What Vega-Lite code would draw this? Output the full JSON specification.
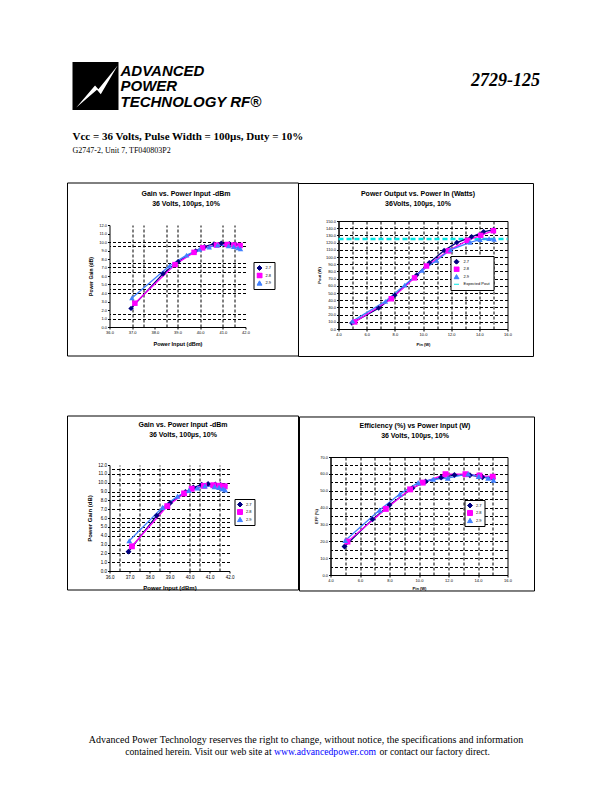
{
  "$schema": "https://vega.github.io/schema/vega-lite/v6.json",
  "padding": {"left": 66.5, "top": 62, "right": 5, "bottom": 5},
  "background": "white",
  "datasets": {
    "meas": [
      {"freq": "2.7", "dbm": 36.95, "gain": 2.19, "w": 4.95, "pout": 8.2, "eff": 16.9},
      {"freq": "2.7", "dbm": 38.36, "gain": 6.27, "w": 6.85, "pout": 29.0, "eff": 33.0},
      {"freq": "2.7", "dbm": 39.03, "gain": 7.69, "w": 8.0, "pout": 47.0, "eff": 41.5},
      {"freq": "2.7", "dbm": 39.80, "gain": 8.95, "w": 9.55, "pout": 75.0, "eff": 51.5},
      {"freq": "2.7", "dbm": 40.19, "gain": 9.45, "w": 10.45, "pout": 92.0, "eff": 55.5},
      {"freq": "2.7", "dbm": 40.61, "gain": 9.77, "w": 11.5, "pout": 109.0, "eff": 57.8},
      {"freq": "2.7", "dbm": 40.93, "gain": 9.86, "w": 12.4, "pout": 120.0, "eff": 59.3},
      {"freq": "2.7", "dbm": 41.29, "gain": 9.79, "w": 13.45, "pout": 128.0, "eff": 59.2},
      {"freq": "2.7", "dbm": 41.55, "gain": 9.75, "w": 14.3, "pout": 135.0, "eff": 58.0},
      {"freq": "2.7", "dbm": 41.76, "gain": 9.64, "w": 15.0, "pout": 138.0, "eff": 57.4},
      {"freq": "2.8", "dbm": 37.12, "gain": 2.80, "w": 5.15, "pout": 9.8, "eff": 19.8},
      {"freq": "2.8", "dbm": 38.89, "gain": 7.34, "w": 7.75, "pout": 42.0, "eff": 39.2},
      {"freq": "2.8", "dbm": 39.73, "gain": 8.78, "w": 9.4, "pout": 71.0, "eff": 50.8},
      {"freq": "2.8", "dbm": 40.11, "gain": 9.31, "w": 10.25, "pout": 87.5, "eff": 54.8},
      {"freq": "2.8", "dbm": 40.72, "gain": 9.64, "w": 11.8, "pout": 108.5, "eff": 59.8},
      {"freq": "2.8", "dbm": 41.19, "gain": 9.71, "w": 13.15, "pout": 123.0, "eff": 59.8},
      {"freq": "2.8", "dbm": 41.49, "gain": 9.65, "w": 14.1, "pout": 130.0, "eff": 59.0},
      {"freq": "2.8", "dbm": 41.76, "gain": 9.59, "w": 15.0, "pout": 136.5, "eff": 58.3},
      {"freq": "2.9", "dbm": 36.99, "gain": 3.42, "w": 5.0, "pout": 11.0, "eff": 20.5},
      {"freq": "2.9", "dbm": 38.65, "gain": 7.20, "w": 7.33, "pout": 38.5, "eff": 38.5},
      {"freq": "2.9", "dbm": 39.40, "gain": 8.46, "w": 8.7, "pout": 61.0, "eff": 48.0},
      {"freq": "2.9", "dbm": 39.97, "gain": 9.13, "w": 9.94, "pout": 81.3, "eff": 54.8},
      {"freq": "2.9", "dbm": 40.40, "gain": 9.39, "w": 10.96, "pout": 95.2, "eff": 56.8},
      {"freq": "2.9", "dbm": 40.77, "gain": 9.64, "w": 11.95, "pout": 110.0, "eff": 57.5},
      {"freq": "2.9", "dbm": 41.25, "gain": 9.55, "w": 13.34, "pout": 120.3, "eff": 60.0},
      {"freq": "2.9", "dbm": 41.48, "gain": 9.46, "w": 14.05, "pout": 124.0, "eff": 58.5},
      {"freq": "2.9", "dbm": 41.67, "gain": 9.31, "w": 14.69, "pout": 125.4, "eff": 57.5},
      {"freq": "2.9", "dbm": 41.78, "gain": 9.18, "w": 15.05, "pout": 124.5, "eff": 56.3}
    ],
    "expected": [
      {"freq": "Expected Pout", "w": 4, "pout": 125},
      {"freq": "Expected Pout", "w": 16, "pout": 125}
    ]
  },
  "title": {"text": "2729-125", "anchor": "end", "frame": "bounds", "offset": -28, "dx": 4.5, "font": "Liberation Serif", "fontSize": 18, "fontWeight": "bold", "fontStyle": "italic", "color": "black"},
  "spacing": 21,
  "resolve": {"scale": {"color": "independent", "shape": "independent"}, "legend": {"color": "independent", "shape": "independent"}},
  "vconcat": [
    {
      "width": 1, "height": 48,
      "data": {"values": [{"name": "ADVANCED\nPOWER\nTECHNOLOGY RF®"}]},
      "layer": [
        {"mark": {"type": "point", "shape": "M-1.5625,-1H0.354V1H-1.5625Z", "size": 2304, "filled": true, "color": "black", "opacity": 1, "strokeWidth": 0}, "encoding": {}},
        {"mark": {"type": "point", "shape": "M-1.404,0.9L-0.624,-0.02L-0.484,0.14L0.32,-0.85L-0.384,0.34L-0.544,0.16Z", "size": 2304, "filled": true, "color": "white", "opacity": 1, "strokeWidth": 0}, "encoding": {}},
        {"mark": {"type": "text", "align": "left", "baseline": "middle", "dx": 10.5, "dy": -15.5, "font": "Liberation Sans", "fontSize": 15, "fontWeight": "bold", "fontStyle": "italic", "lineBreak": "\n", "lineHeight": 15.5, "color": "black"}, "encoding": {"text": {"field": "name"}}}
      ]
    },
    {
      "title": {"text": "Vcc = 36 Volts, Pulse Width = 100µs, Duty = 10%", "subtitle": "G2747-2, Unit 7, TF040803P2", "anchor": "start", "frame": "bounds", "offset": 26, "dx": 5.5, "font": "Liberation Serif", "fontSize": 11, "fontWeight": "bold", "color": "black", "subtitleFont": "Liberation Serif", "subtitleFontSize": 8, "subtitleFontWeight": "normal", "subtitleColor": "black", "subtitlePadding": 5},
      "spacing": 140.5,
      "resolve": {"scale": {"color": "independent", "shape": "independent"}, "legend": {"color": "independent", "shape": "independent"}},
      "vconcat": [
        {
          "spacing": 56,
          "resolve": {"scale": {"color": "independent", "shape": "independent"}, "legend": {"color": "independent", "shape": "independent"}},
          "vconcat": [
            {
              "spacing": -2,
              "resolve": {"scale": {"color": "independent", "shape": "independent"}, "legend": {"color": "independent", "shape": "independent"}},
              "hconcat": [
                {
                  "spacing": 0,
                  "resolve": {"scale": {"color": "independent", "shape": "independent"}, "legend": {"color": "independent", "shape": "independent"}},
                  "vconcat": [
                    {"width": 1, "height": 1, "data": {"values": [{}]}, "mark": {"type": "point", "opacity": 0, "size": 0}, "encoding": {}},
                    {
                      "width": 136, "height": 102,
                      "title": {"text": "Gain vs. Power Input -dBm", "subtitle": "36 Volts, 100µs, 10%", "offset": -24, "frame": "bounds", "dx": 3},
                      "data": {"name": "meas"},
                      "resolve": {"axis": {"x": "independent", "y": "independent"}},
                      "layer": [
                        {
                          "data": {"values": [{"box": "frame"}]},
                          "mark": {"type": "rect", "fill": "transparent", "stroke": "black", "strokeWidth": 1},
                          "encoding": {
                            "x": {"datum": 34.147, "type": "quantitative", "scale": {"domain": [36, 42], "nice": false, "zero": false}, "axis": null},
                            "x2": {"datum": 44.338},
                            "y": {"datum": 16.941, "type": "quantitative", "scale": {"domain": [0, 12], "nice": false, "zero": false}, "axis": null},
                            "y2": {"datum": -3.412}
                          }
                        },
                        {
                          "mark": {"type": "line", "strokeWidth": 1.3},
                          "encoding": {
                            "x": {"field": "dbm", "type": "quantitative", "scale": {"domain": [36, 42], "nice": false, "zero": false}, "axis": {"orient": "bottom", "values": [36, 37, 38, 39, 40, 41, 42], "format": ".1f", "labelFontSize": 4, "title": "Power Input (dBm)", "titleFontSize": 5.5, "titlePadding": 7, "grid": false}},
                            "y": {"field": "gain", "type": "quantitative", "scale": {"domain": [0, 12], "nice": false, "zero": false}, "axis": {"orient": "left", "values": [0, 1, 2, 3, 4, 5, 6, 7, 8, 9, 10, 11, 12], "format": ".1f", "labelFontSize": 4, "title": "Power Gain (dB)", "titleFontSize": 5, "titlePadding": 5.7, "grid": false}},
                            "color": {"field": "freq", "type": "nominal", "scale": {"domain": ["2.7", "2.8", "2.9"], "range": ["#000080", "#FF00FF", "#4080FF"]},
                              "legend": {"orient": "none", "legendX": 144, "legendY": 37, "title": null, "fillColor": "white", "strokeColor": "black", "padding": 3, "rowPadding": 1.5, "clipHeight": 6, "labelFontSize": 4, "labelOffset": 3, "symbolSize": 25, "symbolStrokeWidth": 1}}
                          }
                        },
                        {
                          "mark": {"type": "point", "filled": true, "opacity": 1, "size": 30},
                          "encoding": {
                            "x": {"field": "dbm", "type": "quantitative", "scale": {"domain": [36, 42], "nice": false, "zero": false}, "axis": {"orient": "top", "values": [37, 37.5, 38.5, 39, 40, 41, 41.5], "grid": true, "labels": false, "ticks": false, "domain": false, "title": null}},
                            "y": {"field": "gain", "type": "quantitative", "scale": {"domain": [0, 12], "nice": false, "zero": false}, "axis": {"orient": "right", "values": [1, 1.5, 4, 4.5, 5, 6.5, 7, 7.5, 9.5, 10], "grid": true, "labels": false, "ticks": false, "domain": false, "title": null}},
                            "color": {"field": "freq", "type": "nominal", "scale": {"domain": ["2.7", "2.8", "2.9"], "range": ["#000080", "#FF00FF", "#4080FF"]},
                              "legend": {"orient": "none", "legendX": 144, "legendY": 37, "title": null, "fillColor": "white", "strokeColor": "black", "padding": 3, "rowPadding": 1.5, "clipHeight": 6, "labelFontSize": 4, "labelOffset": 3, "symbolSize": 25, "symbolStrokeWidth": 1}},
                            "shape": {"field": "freq", "type": "nominal", "scale": {"domain": ["2.7", "2.8", "2.9"], "range": ["diamond", "square", "triangle-up"]},
                              "legend": {"orient": "none", "legendX": 144, "legendY": 37, "title": null, "fillColor": "white", "strokeColor": "black", "padding": 3, "rowPadding": 1.5, "clipHeight": 6, "labelFontSize": 4, "labelOffset": 3, "symbolSize": 25, "symbolStrokeWidth": 1}}
                          }
                        }
                      ]
                    }
                  ]
                },
                {
                  "spacing": 0,
                  "resolve": {"scale": {"color": "independent", "shape": "independent"}, "legend": {"color": "independent", "shape": "independent"}},
                  "vconcat": [
                    {"width": 1, "height": 1, "data": {"values": [{}]}, "mark": {"type": "point", "opacity": 0, "size": 0}, "encoding": {}},
                    {
                      "width": 169, "height": 108,
                      "view": {"stroke": "black", "strokeWidth": 1},
                      "title": {"text": "Power Output vs. Power In (Watts)", "subtitle": "36Volts, 100µs, 10%", "offset": -24, "frame": "bounds", "dx": 2},
                      "data": {"name": "meas"},
                      "resolve": {"axis": {"x": "independent", "y": "independent"}},
                      "layer": [
                        {
                          "data": {"values": [{"box": "frame"}]},
                          "mark": {"type": "rect", "fill": "transparent", "stroke": "black", "strokeWidth": 1},
                          "encoding": {
                            "x": {"datum": 1.16, "type": "quantitative", "scale": {"domain": [4, 16], "nice": false, "zero": false}, "axis": null},
                            "x2": {"datum": 17.846},
                            "y": {"datum": 202.08, "type": "quantitative", "scale": {"domain": [0, 150], "nice": false, "zero": false}, "axis": null},
                            "y2": {"datum": -38.19}
                          }
                        },
                        {
                          "data": {"name": "expected"},
                          "mark": {"type": "line", "strokeWidth": 2.5, "strokeDash": [5, 3]},
                          "encoding": {
                            "x": {"field": "w", "type": "quantitative", "scale": {"domain": [4, 16], "nice": false, "zero": false}, "axis": null},
                            "y": {"field": "pout", "type": "quantitative", "scale": {"domain": [0, 150], "nice": false, "zero": false}, "axis": null},
                            "color": {"field": "freq", "type": "nominal", "scale": {"domain": ["2.7", "2.8", "2.9", "Expected Pout"], "range": ["#000080", "#FF00FF", "#4080FF", "#00E5E5"]},
                              "legend": {"orient": "none", "legendX": 112, "legendY": 35, "title": null, "fillColor": "white", "strokeColor": "black", "padding": 3, "rowPadding": 1.5, "clipHeight": 5.5, "labelFontSize": 4, "labelOffset": 4, "symbolSize": 25, "symbolStrokeWidth": 1}}
                          }
                        },
                        {
                          "mark": {"type": "line", "strokeWidth": 1.3},
                          "encoding": {
                            "x": {"field": "w", "type": "quantitative", "scale": {"domain": [4, 16], "nice": false, "zero": false}, "axis": {"orient": "bottom", "values": [4, 6, 8, 10, 12, 14, 16], "format": ".1f", "labelFontSize": 4, "title": "Pin (W)", "titleFontSize": 4, "titlePadding": 6.8, "grid": false}},
                            "y": {"field": "pout", "type": "quantitative", "scale": {"domain": [0, 150], "nice": false, "zero": false}, "axis": {"orient": "left", "values": [0, 10, 20, 30, 40, 50, 60, 70, 80, 90, 100, 110, 120, 130, 140, 150], "format": ".1f", "labelFontSize": 4, "title": "Pout (W)", "titleFontSize": 4, "titlePadding": 3.7, "grid": false}},
                            "color": {"field": "freq", "type": "nominal", "scale": {"domain": ["2.7", "2.8", "2.9", "Expected Pout"], "range": ["#000080", "#FF00FF", "#4080FF", "#00E5E5"]},
                              "legend": {"orient": "none", "legendX": 112, "legendY": 35, "title": null, "fillColor": "white", "strokeColor": "black", "padding": 3, "rowPadding": 1.5, "clipHeight": 5.5, "labelFontSize": 4, "labelOffset": 4, "symbolSize": 25, "symbolStrokeWidth": 1}}
                          }
                        },
                        {
                          "mark": {"type": "point", "filled": true, "opacity": 1, "size": 30},
                          "encoding": {
                            "x": {"field": "w", "type": "quantitative", "scale": {"domain": [4, 16], "nice": false, "zero": false}, "axis": {"orient": "top", "values": [5, 6, 7, 8, 9, 10, 11, 12, 13, 14, 15], "grid": true, "labels": false, "ticks": false, "domain": false, "title": null}},
                            "y": {"field": "pout", "type": "quantitative", "scale": {"domain": [0, 150], "nice": false, "zero": false}, "axis": {"orient": "right", "values": [10, 20, 30, 40, 50, 60, 70, 80, 90, 100, 110, 120, 130, 140], "grid": true, "labels": false, "ticks": false, "domain": false, "title": null}},
                            "color": {"field": "freq", "type": "nominal", "scale": {"domain": ["2.7", "2.8", "2.9", "Expected Pout"], "range": ["#000080", "#FF00FF", "#4080FF", "#00E5E5"]},
                              "legend": {"orient": "none", "legendX": 112, "legendY": 35, "title": null, "fillColor": "white", "strokeColor": "black", "padding": 3, "rowPadding": 1.5, "clipHeight": 5.5, "labelFontSize": 4, "labelOffset": 4, "symbolSize": 25, "symbolStrokeWidth": 1}},
                            "shape": {"field": "freq", "type": "nominal", "scale": {"domain": ["2.7", "2.8", "2.9", "Expected Pout"], "range": ["diamond", "square", "triangle-up", "stroke"]},
                              "legend": {"orient": "none", "legendX": 112, "legendY": 35, "title": null, "fillColor": "white", "strokeColor": "black", "padding": 3, "rowPadding": 1.5, "clipHeight": 5.5, "labelFontSize": 4, "labelOffset": 4, "symbolSize": 25, "symbolStrokeWidth": 1}}
                          }
                        }
                      ]
                    }
                  ]
                }
              ]
            },
            {
              "spacing": -2,
              "resolve": {"scale": {"color": "independent", "shape": "independent"}, "legend": {"color": "independent", "shape": "independent"}},
              "hconcat": [
                {
                  "spacing": 0,
                  "resolve": {"scale": {"color": "independent", "shape": "independent"}, "legend": {"color": "independent", "shape": "independent"}},
                  "vconcat": [
                    {"width": 1, "height": 1, "data": {"values": [{}]}, "mark": {"type": "point", "opacity": 0, "size": 0}, "encoding": {}},
                    {
                      "width": 120, "height": 106,
                      "title": {"text": "Gain vs. Power Input -dBm", "subtitle": "36 Volts, 100µs, 10%", "offset": -22, "frame": "bounds"},
                      "data": {"name": "meas"},
                      "resolve": {"axis": {"x": "independent", "y": "independent"}},
                      "layer": [
                        {
                          "data": {"values": [{"box": "frame"}]},
                          "mark": {"type": "rect", "fill": "transparent", "stroke": "black", "strokeWidth": 1},
                          "encoding": {
                            "x": {"datum": 33.9, "type": "quantitative", "scale": {"domain": [36, 42], "nice": false, "zero": false}, "axis": null},
                            "x2": {"datum": 45.45},
                            "y": {"datum": 17.547, "type": "quantitative", "scale": {"domain": [0, 12], "nice": false, "zero": false}, "axis": null},
                            "y2": {"datum": -2.151}
                          }
                        },
                        {
                          "mark": {"type": "line", "strokeWidth": 1.3},
                          "encoding": {
                            "x": {"field": "dbm", "type": "quantitative", "scale": {"domain": [36, 42], "nice": false, "zero": false}, "axis": {"orient": "bottom", "values": [36, 37, 38, 39, 40, 41, 42], "format": ".1f", "labelFontSize": 4.5, "title": "Power Input (dBm)", "titleFontSize": 6, "titlePadding": 5.8, "grid": false}},
                            "y": {"field": "gain", "type": "quantitative", "scale": {"domain": [0, 12], "nice": false, "zero": false}, "axis": {"orient": "left", "values": [0, 1, 2, 3, 4, 5, 6, 7, 8, 9, 10, 11, 12], "format": ".1f", "labelFontSize": 4.5, "title": "Power Gain (dB)", "titleFontSize": 6, "titlePadding": 5.2, "grid": false}},
                            "color": {"field": "freq", "type": "nominal", "scale": {"domain": ["2.7", "2.8", "2.9"], "range": ["#000080", "#FF00FF", "#4080FF"]},
                              "legend": {"orient": "none", "legendX": 125, "legendY": 34, "title": null, "fillColor": "white", "strokeColor": "black", "padding": 2.5, "rowPadding": 1.5, "clipHeight": 6, "labelFontSize": 4, "labelOffset": 3, "symbolSize": 25, "symbolStrokeWidth": 1}}
                          }
                        },
                        {
                          "mark": {"type": "point", "filled": true, "opacity": 1, "size": 35},
                          "encoding": {
                            "x": {"field": "dbm", "type": "quantitative", "scale": {"domain": [36, 42], "nice": false, "zero": false}, "axis": {"orient": "top", "values": [36.5, 37.5, 38.5, 40, 40.5, 41.5], "grid": true, "labels": false, "ticks": false, "domain": false, "title": null}},
                            "y": {"field": "gain", "type": "quantitative", "scale": {"domain": [0, 12], "nice": false, "zero": false}, "axis": {"orient": "right", "values": [1, 2, 3, 4, 4.5, 5, 5.5, 6, 7, 8, 8.5, 9, 10, 11, 11.5], "grid": true, "labels": false, "ticks": false, "domain": false, "title": null}},
                            "color": {"field": "freq", "type": "nominal", "scale": {"domain": ["2.7", "2.8", "2.9"], "range": ["#000080", "#FF00FF", "#4080FF"]},
                              "legend": {"orient": "none", "legendX": 125, "legendY": 34, "title": null, "fillColor": "white", "strokeColor": "black", "padding": 2.5, "rowPadding": 1.5, "clipHeight": 6, "labelFontSize": 4, "labelOffset": 3, "symbolSize": 25, "symbolStrokeWidth": 1}},
                            "shape": {"field": "freq", "type": "nominal", "scale": {"domain": ["2.7", "2.8", "2.9"], "range": ["diamond", "square", "triangle-up"]},
                              "legend": {"orient": "none", "legendX": 125, "legendY": 34, "title": null, "fillColor": "white", "strokeColor": "black", "padding": 2.5, "rowPadding": 1.5, "clipHeight": 6, "labelFontSize": 4, "labelOffset": 3, "symbolSize": 25, "symbolStrokeWidth": 1}}
                          }
                        }
                      ]
                    }
                  ]
                },
                {
                  "spacing": 0,
                  "resolve": {"scale": {"color": "independent", "shape": "independent"}, "legend": {"color": "independent", "shape": "independent"}},
                  "vconcat": [
                    {"width": 1, "height": 1, "data": {"values": [{}]}, "mark": {"type": "point", "opacity": 0, "size": 0}, "encoding": {}},
                    {
                      "width": 177, "height": 118,
                      "view": {"stroke": "black", "strokeWidth": 1},
                      "title": {"text": "Efficiency (%) vs Power Input (W)", "subtitle": "36 Volts, 100µs, 10%", "offset": -22.5, "frame": "bounds", "dx": -2},
                      "data": {"name": "meas"},
                      "resolve": {"axis": {"x": "independent", "y": "independent"}},
                      "layer": [
                        {
                          "data": {"values": [{"box": "frame"}]},
                          "mark": {"type": "rect", "fill": "transparent", "stroke": "black", "strokeWidth": 1},
                          "encoding": {
                            "x": {"datum": 1.898, "type": "quantitative", "scale": {"domain": [4, 16], "nice": false, "zero": false}, "axis": null},
                            "x2": {"datum": 17.831},
                            "y": {"datum": 93.73, "type": "quantitative", "scale": {"domain": [0, 70], "nice": false, "zero": false}, "axis": null},
                            "y2": {"datum": -9.49}
                          }
                        },
                        {
                          "mark": {"type": "line", "strokeWidth": 1.3},
                          "encoding": {
                            "x": {"field": "w", "type": "quantitative", "scale": {"domain": [4, 16], "nice": false, "zero": false}, "axis": {"orient": "bottom", "values": [4, 6, 8, 10, 12, 14, 16], "format": ".1f", "labelFontSize": 4, "title": "Pin (W)", "titleFontSize": 4, "titlePadding": 4.7, "grid": false}},
                            "y": {"field": "eff", "type": "quantitative", "scale": {"domain": [0, 70], "nice": false, "zero": false}, "axis": {"orient": "left", "values": [0, 10, 20, 30, 40, 50, 60, 70], "format": ".1f", "labelFontSize": 4, "title": "EFF (%)", "titleFontSize": 4, "titlePadding": 1, "grid": false}},
                            "color": {"field": "freq", "type": "nominal", "scale": {"domain": ["2.7", "2.8", "2.9"], "range": ["#000080", "#FF00FF", "#4080FF"]},
                              "legend": {"orient": "none", "legendX": 134, "legendY": 43, "title": null, "fillColor": "white", "strokeColor": "black", "padding": 2.5, "rowPadding": 1.5, "clipHeight": 6, "labelFontSize": 4, "labelOffset": 3, "symbolSize": 25, "symbolStrokeWidth": 1}}
                          }
                        },
                        {
                          "mark": {"type": "point", "filled": true, "opacity": 1, "size": 35},
                          "encoding": {
                            "x": {"field": "w", "type": "quantitative", "scale": {"domain": [4, 16], "nice": false, "zero": false}, "axis": {"orient": "top", "values": [5, 6, 7, 8, 9, 10, 11, 12, 13, 14, 15], "grid": true, "labels": false, "ticks": false, "domain": false, "title": null}},
                            "y": {"field": "eff", "type": "quantitative", "scale": {"domain": [0, 70], "nice": false, "zero": false}, "axis": {"orient": "right", "values": [5, 10, 15, 20, 25, 30, 35, 40, 45, 50, 55, 60, 65], "grid": true, "labels": false, "ticks": false, "domain": false, "title": null}},
                            "color": {"field": "freq", "type": "nominal", "scale": {"domain": ["2.7", "2.8", "2.9"], "range": ["#000080", "#FF00FF", "#4080FF"]},
                              "legend": {"orient": "none", "legendX": 134, "legendY": 43, "title": null, "fillColor": "white", "strokeColor": "black", "padding": 2.5, "rowPadding": 1.5, "clipHeight": 6, "labelFontSize": 4, "labelOffset": 3, "symbolSize": 25, "symbolStrokeWidth": 1}},
                            "shape": {"field": "freq", "type": "nominal", "scale": {"domain": ["2.7", "2.8", "2.9"], "range": ["diamond", "square", "triangle-up"]},
                              "legend": {"orient": "none", "legendX": 134, "legendY": 43, "title": null, "fillColor": "white", "strokeColor": "black", "padding": 2.5, "rowPadding": 1.5, "clipHeight": 6, "labelFontSize": 4, "labelOffset": 3, "symbolSize": 25, "symbolStrokeWidth": 1}}
                          }
                        }
                      ]
                    }
                  ]
                }
              ]
            }
          ]
        },
        {
          "width": 382, "height": 26,
          "data": {"values": [{"l1": "Advanced Power Technology reserves the right to change, without notice, the specifications and information", "a": "contained herein.  Visit our web site at", "u": "www.advancedpower.com", "c": "or contact our factory direct."}]},
          "layer": [
            {"mark": {"type": "text", "font": "Liberation Serif", "fontSize": 10, "color": "black", "align": "center", "baseline": "middle", "dx": 5.5, "dy": -6}, "encoding": {"text": {"field": "l1"}}},
            {"mark": {"type": "text", "font": "Liberation Serif", "fontSize": 9.7, "color": "black", "align": "right", "baseline": "middle", "dx": -28.9, "dy": 6}, "encoding": {"text": {"field": "a"}}},
            {"mark": {"type": "text", "font": "Liberation Serif", "fontSize": 9.7, "color": "#0000FF", "align": "left", "baseline": "middle", "dx": -26.5, "dy": 6}, "encoding": {"text": {"field": "u"}}},
            {"mark": {"type": "text", "font": "Liberation Serif", "fontSize": 9.7, "color": "black", "align": "left", "baseline": "middle", "dx": 78.9, "dy": 6}, "encoding": {"text": {"field": "c"}}}
          ]
        }
      ]
    }
  ],
  "config": {
    "view": {"stroke": null},
    "font": "Liberation Sans",
    "axis": {"domainColor": "black", "domainWidth": 1, "tickColor": "black", "tickSize": 2, "tickWidth": 1, "labelColor": "black", "labelFont": "Liberation Sans", "labelPadding": 1, "labelFlush": false, "labelOverlap": false, "titleColor": "black", "titleFont": "Liberation Sans", "titleFontWeight": "bold", "gridColor": "black", "gridDash": [3, 2], "gridWidth": 1, "gridOpacity": 1},
    "title": {"color": "black", "subtitleColor": "black", "font": "Liberation Sans", "subtitleFont": "Liberation Sans", "fontSize": 7, "subtitleFontSize": 7, "fontWeight": "bold", "subtitleFontWeight": "bold", "subtitlePadding": 3},
    "legend": {"labelColor": "black", "labelFont": "Liberation Sans"}
  }
}
